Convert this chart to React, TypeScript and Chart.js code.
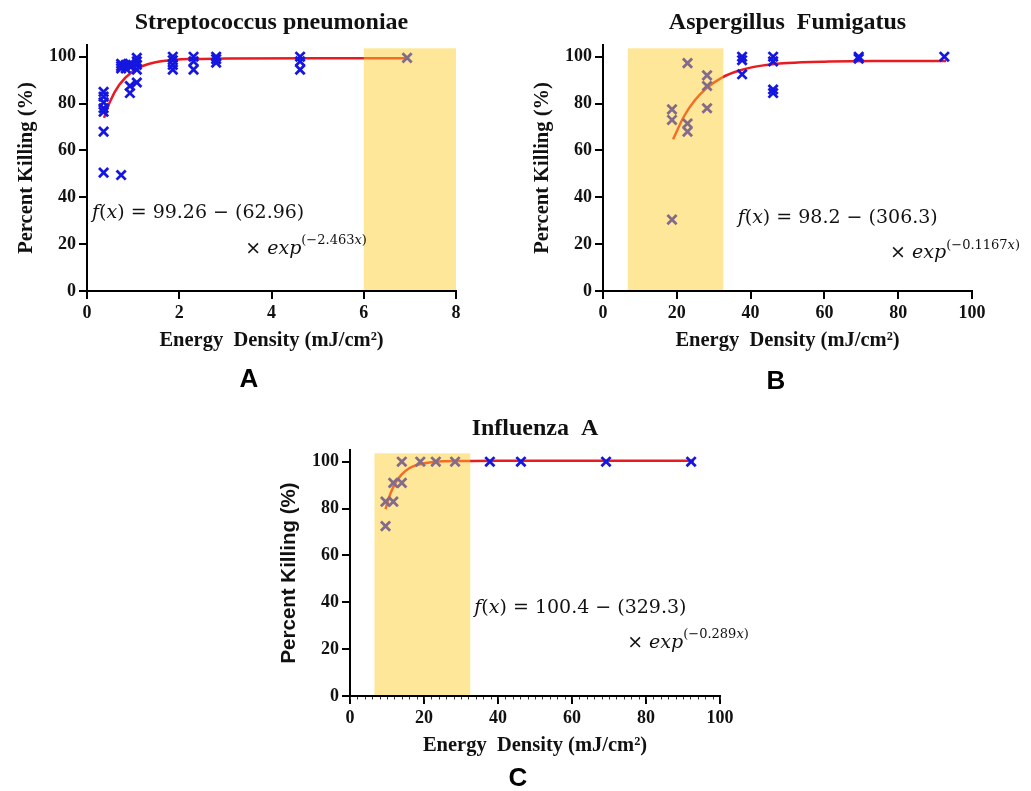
import React, { useEffect, useRef } from "react";
import { Chart, registerables } from "chart.js";

Chart.register(...registerables);

// ---------------- Data ----------------
// Panel A – Streptococcus pneumoniae
const aEnergy = [0.36, 0.36, 0.36, 0.36, 0.36, 0.36, 0.36, 0.74, 0.74, 0.74, 0.74, 0.84, 0.84, 0.93, 0.93, 0.93, 0.93, 1.08, 1.08, 1.08, 1.08, 1.08, 1.86, 1.86, 1.86, 1.86, 2.31, 2.31, 2.31, 2.8, 2.8, 2.8, 4.62, 4.62, 4.62, 6.94];
const aKilling = [85, 83, 80.5, 78, 76.5, 68, 50.5, 97, 96, 95, 49.5, 96.5, 95, 97, 96, 87.5, 84.5, 99.5, 98, 96.5, 94.5, 89, 100, 98.5, 96.5, 94.5, 100, 98, 94.5, 100, 99, 97.5, 100, 98, 94.5, 99.5];
const aFitEnergy = [0.37, 0.5, 0.7, 1.0, 1.3, 1.7, 2.2, 3, 5, 6.95];
const aFitKilling = [73.9, 80.9, 88.0, 93.9, 96.7, 98.3, 99.0, 99.2, 99.3, 99.3];
const aShade = [6, 8];

// Panel B – Aspergillus Fumigatus
const bEnergy = [18.7, 18.7, 18.7, 22.9, 22.9, 22.9, 28.2, 28.2, 28.2, 37.7, 37.7, 37.7, 46.1, 46.1, 46.1, 46.1, 69.3, 69.3, 92.5];
const bKilling = [77.5, 73, 30.5, 97.3, 71.5, 68, 92, 87.5, 78, 100, 98.5, 92.5, 100, 98, 86, 84.5, 100, 99.2, 100];
const bFitEnergy = [19, 22, 25, 28, 32, 37, 43, 50, 60, 75, 93];
const bFitKilling = [64.8, 74.7, 81.6, 86.5, 90.9, 94.1, 96.2, 97.3, 97.9, 98.15, 98.2];
const bShade = [6.7, 32.6];

// Panel C – Influenza A
const cEnergy = [9.6, 9.6, 11.7, 11.7, 14.0, 14.0, 19.0, 23.2, 28.4, 37.8, 46.2, 69.2, 92.2];
const cKilling = [83, 72.5, 83, 91, 91, 100, 100, 100, 100, 100, 100, 100, 100];
const cFitEnergy = [9.6, 11, 12.5, 14, 16, 18, 21, 25, 30, 40, 93];
const cFitKilling = [79.8, 86.7, 91.5, 94.6, 97.2, 98.6, 99.6, 100.2, 100.3, 100.4, 100.4];
const cShade = [6.6, 32.5];

const yTickValues = [0, 20, 40, 60, 80, 100];
const Y_AXIS_MAX = 105;
const SHADE_TOP = 103.6;

const BLUE = "rgb(22, 22, 225)";
const RED = "rgb(232, 28, 32)";
const SHADE = "rgba(255, 205, 40, 0.47)";

type Seg = { t: string; it?: boolean; sup?: boolean };

const eqFont = '"DejaVu Serif"';

function drawSegs(ctx: CanvasRenderingContext2D, x: number, y: number, segs: Seg[], size: number) {
  let cx = x;
  ctx.textAlign = "left";
  ctx.textBaseline = "middle";
  ctx.fillStyle = "#111";
  for (const s of segs) {
    const fs = s.sup ? Math.round(size * 0.66) : size;
    ctx.font = `${s.it ? "italic " : ""}${fs}px ${eqFont}`;
    ctx.fillText(s.t, cx, s.sup ? y - size * 0.42 : y);
    cx += ctx.measureText(s.t).width;
  }
}

type PanelCfg = {
  left: number;
  top: number;
  width: number;
  height: number;
  padRight: number;
  padBottom: number;
  xMax: number;
  xStep: number;
  minorStep?: number;
  energy: number[];
  killing: number[];
  fitEnergy: number[];
  fitKilling: number[];
  shade: number[];
  title: string;
  titleBaseline: number;
  yTitleFamily: string;
  letter: string;
  letterX: number;
  letterBaseline: number;
  eq1: { x: number; y: number; segs: Seg[] };
  eq2: { x: number; y: number; segs: Seg[] };
};

const panels: PanelCfg[] = [
  {
    left: 0, top: 0, width: 520, height: 400, padRight: 64, padBottom: 39,
    xMax: 8, xStep: 2,
    energy: aEnergy, killing: aKilling, fitEnergy: aFitEnergy, fitKilling: aFitKilling, shade: aShade,
    title: "Streptococcus pneumoniae", titleBaseline: 28.5,
    yTitleFamily: '"Liberation Serif"',
    letter: "A", letterX: 249, letterBaseline: 387,
    eq1: { x: 0.11, y: 33.1, segs: [{ t: "f", it: true }, { t: "(" }, { t: "x", it: true }, { t: ") = 99.26 \u2212 (62.96)" }] },
    eq2: { x: 3.43, y: 17.9, segs: [{ t: "\u00d7 " }, { t: "exp", it: true }, { t: "(\u22122.463", sup: true }, { t: "x", it: true, sup: true }, { t: ")", sup: true }] },
  },
  {
    left: 516, top: 0, width: 515, height: 400, padRight: 59, padBottom: 39,
    xMax: 100, xStep: 20,
    energy: bEnergy, killing: bKilling, fitEnergy: bFitEnergy, fitKilling: bFitKilling, shade: bShade,
    title: "Aspergillus  Fumigatus", titleBaseline: 28.8,
    yTitleFamily: '"Liberation Serif"',
    letter: "B", letterX: 260, letterBaseline: 389,
    eq1: { x: 36.5, y: 31.3, segs: [{ t: "f", it: true }, { t: "(" }, { t: "x", it: true }, { t: ") = 98.2 \u2212 (306.3)" }] },
    eq2: { x: 77.8, y: 16.0, segs: [{ t: "\u00d7 " }, { t: "exp", it: true }, { t: "(\u22120.1167", sup: true }, { t: "x", it: true, sup: true }, { t: ")", sup: true }] },
  },
  {
    left: 263, top: 405, width: 520, height: 386, padRight: 63, padBottom: 25,
    xMax: 100, xStep: 20, minorStep: 2,
    energy: cEnergy, killing: cKilling, fitEnergy: cFitEnergy, fitKilling: cFitKilling, shade: cShade,
    title: "Influenza  A", titleBaseline: 30,
    yTitleFamily: '"Liberation Sans"',
    letter: "C", letterX: 255, letterBaseline: 381,
    eq1: { x: 33.6, y: 37.5, segs: [{ t: "f", it: true }, { t: "(" }, { t: "x", it: true }, { t: ") = 100.4 \u2212 (329.3)" }] },
    eq2: { x: 74.9, y: 22.7, segs: [{ t: "\u00d7 " }, { t: "exp", it: true }, { t: "(\u22120.289", sup: true }, { t: "x", it: true, sup: true }, { t: ")", sup: true }] },
  },
];

function Panel({ p }: { p: PanelCfg }) {
  const ref = useRef<HTMLCanvasElement>(null);
  useEffect(() => {
    const canvas = ref.current!;
    const deco = {
      id: "deco",
      afterDatasetsDraw(chart: any) {
        const { ctx, chartArea, scales } = chart;
        const xs = scales.x, ys = scales.y;
        ctx.save();
        ctx.fillStyle = SHADE;
        const x0 = xs.getPixelForValue(p.shade[0]);
        const x1 = xs.getPixelForValue(p.shade[1]);
        const yt = ys.getPixelForValue(SHADE_TOP);
        ctx.fillRect(x0, yt, x1 - x0, chartArea.bottom - 1 - yt);
        ctx.restore();
      },
      afterDraw(chart: any) {
        const { ctx, chartArea, scales } = chart;
        const xs = scales.x, ys = scales.y;
        ctx.save();
        // minor ticks
        if (p.minorStep) {
          ctx.strokeStyle = "#333";
          ctx.lineWidth = 1;
          for (let v = 0; v <= p.xMax + 1e-9; v += p.minorStep) {
            const px = Math.round(xs.getPixelForValue(v)) + 0.5;
            ctx.beginPath();
            ctx.moveTo(px, chartArea.bottom + 1);
            ctx.lineTo(px, chartArea.bottom + 3.5);
            ctx.stroke();
          }
        }
        // title
        ctx.fillStyle = "#111";
        ctx.font = 'bold 24px "Liberation Serif"';
        ctx.textAlign = "center";
        ctx.textBaseline = "alphabetic";
        ctx.fillText(p.title, (chartArea.left + chartArea.right) / 2, p.titleBaseline);
        // panel letter
        ctx.font = 'bold 26px "Liberation Sans"';
        ctx.fillStyle = "#000";
        ctx.fillText(p.letter, p.letterX, p.letterBaseline);
        // equation
        drawSegs(ctx, xs.getPixelForValue(p.eq1.x), ys.getPixelForValue(p.eq1.y), p.eq1.segs, 19);
        drawSegs(ctx, xs.getPixelForValue(p.eq2.x), ys.getPixelForValue(p.eq2.y), p.eq2.segs, 19);
        ctx.restore();
      },
    };

    const tickFont = { family: '"Liberation Serif"', size: 18, weight: "bold" as const };
    const chart = new Chart(canvas, {
      type: "scatter",
      data: {
        datasets: [
          {
            type: "scatter",
            data: p.energy.map((e, i) => ({ x: e, y: p.killing[i] })),
            pointStyle: "crossRot",
            pointRadius: 6.5,
            pointHoverRadius: 6.5,
            pointBorderWidth: 2.8,
            borderColor: BLUE,
            backgroundColor: BLUE,
          } as any,
          {
            type: "line",
            data: p.fitEnergy.map((e, i) => ({ x: e, y: p.fitKilling[i] })),
            borderColor: RED,
            borderWidth: 2.5,
            pointRadius: 0,
            showLine: true,
            fill: false,
            cubicInterpolationMode: "monotone",
          } as any,
        ],
      },
      options: {
        responsive: false,
        animation: false,
        devicePixelRatio: 1,
        events: [],
        layout: { padding: { left: 0, top: 45, right: p.padRight, bottom: p.padBottom } },
        plugins: { legend: { display: false }, tooltip: { enabled: false }, title: { display: false } },
        scales: {
          x: {
            type: "linear",
            min: 0,
            max: p.xMax,
            ticks: { stepSize: p.xStep, font: tickFont, color: "#111", padding: 4, maxRotation: 0 },
            grid: { drawOnChartArea: false, drawTicks: true, tickLength: 8, lineWidth: 2, color: "#000" },
            border: { display: true, width: 2, color: "#000" },
            title: {
              display: true,
              text: "Energy  Density (mJ/cm\u00b2)",
              font: { family: '"Liberation Serif"', size: 20.5, weight: "bold" },
              color: "#111",
              padding: { top: 0, bottom: 8 },
            },
            afterFit: (s: any) => {
              s.height = 70;
            },
          },
          y: {
            type: "linear",
            min: 0,
            max: Y_AXIS_MAX,
            ticks: { stepSize: 20, font: tickFont, color: "#111", padding: 3 },
            afterBuildTicks: (s: any) => {
              s.ticks = yTickValues.map((v) => ({ value: v }));
            },
            grid: { drawOnChartArea: false, drawTicks: true, tickLength: 8, lineWidth: 2, color: "#000" },
            border: { display: true, width: 2, color: "#000" },
            title: {
              display: true,
              text: "Percent Killing (%)",
              font: { family: p.yTitleFamily, size: 20.5, weight: "bold" },
              color: "#111",
              padding: { top: 14.5, bottom: 0 },
            },
            afterFit: (s: any) => {
              s.width = 87;
            },
          },
        },
      } as any,
      plugins: [deco],
    });
    return () => chart.destroy();
  }, []);
  return (
    <canvas
      ref={ref}
      width={p.width}
      height={p.height}
      style={{ position: "absolute", left: p.left, top: p.top, width: p.width, height: p.height }}
    />
  );
}

export default function App() {
  return (
    <div
      style={{
        position: "absolute",
        left: 0,
        top: 0,
        width: 1031,
        height: 791,
        overflow: "hidden",
        background: "#fff",
      }}
    >
      {panels.map((p, i) => (
        <Panel key={i} p={p} />
      ))}
    </div>
  );
}
